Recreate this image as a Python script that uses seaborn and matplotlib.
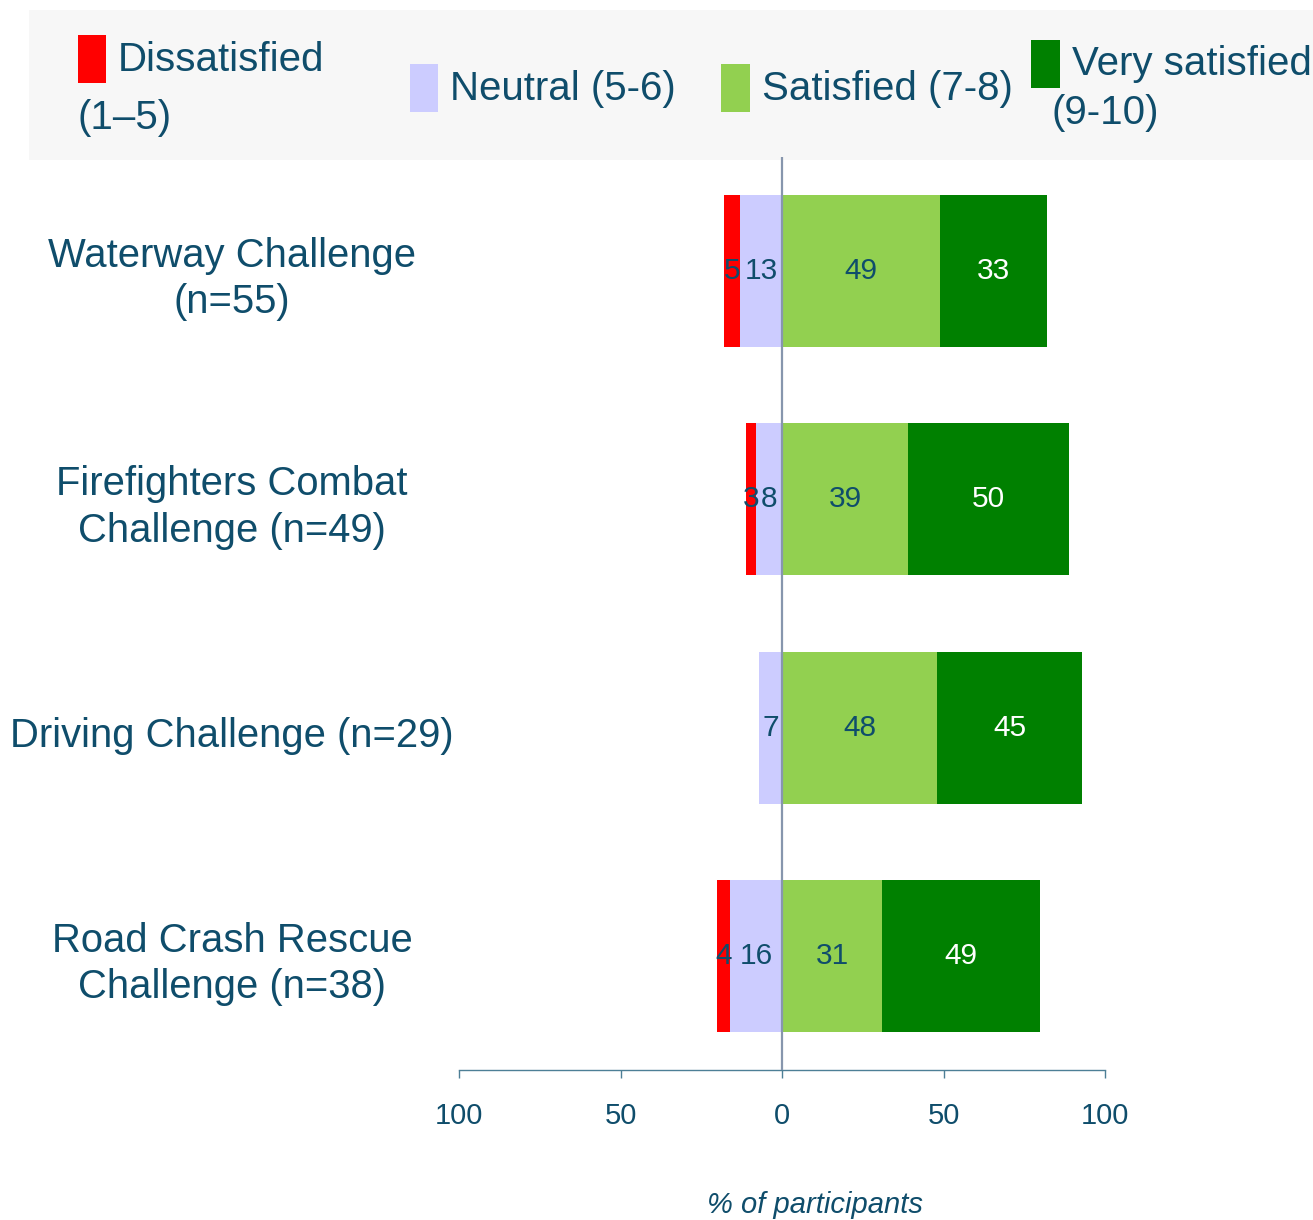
import matplotlib
matplotlib.use("Agg")
import matplotlib.pyplot as plt
import matplotlib.transforms as mtransforms
import seaborn as sns
import pandas as pd
from matplotlib.patches import Rectangle

# ---------------- data ----------------
categories = ["Waterway Challenge\n(n=55)",
              "Firefighters Combat\nChallenge (n=49)",
              "Driving Challenge (n=29)",
              "Road Crash Rescue\nChallenge (n=38)"]
dissatisfied = [5, 3, 0, 4]
neutral = [13, 8, 7, 16]
satisfied = [49, 39, 48, 31]
very_satisfied = [33, 50, 45, 49]
series_labels = ["Dissatisfied\n(1–5)", "Neutral (5-6)", "Satisfied (7-8)", "Very satisfied\n(9-10)"]
tick_values = [-100, -50, 0, 50, 100]
tick_labels = ["100", "50", "0", "50", "100"]
axis_label = "% of participants"

# ---------------- style ----------------
C_DIS, C_NEU, C_SAT, C_VERY = "#ff0000", "#ccccff", "#92d050", "#008000"
TXT = "#0f4d6b"
AXC = "#4d7f96"
sns.set_style("white")
plt.rcParams["font.family"] = ["Liberation Sans", "DejaVu Sans"]

W, H = 1313, 1220
fig = plt.figure(figsize=(W / 100, H / 100), dpi=100)
ax = fig.add_axes([459 / W, 1 - 1070 / H, 646 / W, (1070 - 157) / H])
ax.patch.set_visible(False)

df = pd.DataFrame({
    "cat": categories,
    "dis": dissatisfied,
    "neu": neutral,
    "sat": satisfied,
    "very": very_satisfied,
})
df["left_outer"] = -(df["dis"] + df["neu"])
df["left_inner"] = -df["neu"]
df["right_outer"] = df["sat"] + df["very"]
df["right_inner"] = df["sat"]

bw = 0.665
for col, c in [("right_outer", C_VERY), ("right_inner", C_SAT),
               ("left_outer", C_DIS), ("left_inner", C_NEU)]:
    sns.barplot(data=df, y="cat", x=col, color=c, orient="h", width=bw,
                saturation=1, ax=ax, edgecolor="none", order=categories)

ax.axvline(0, color="#8796ad", lw=1.6, zorder=4)

# value labels
fs_small = 21.5
for i, row in df.iterrows():
    if row["dis"] > 0:
        ax.text(-(row["neu"] + row["dis"] / 2), i, str(row["dis"]), ha="center", va="center",
                color=TXT, fontsize=fs_small, zorder=5)
    if row["neu"] > 0:
        ax.text(-row["neu"] / 2, i, str(row["neu"]), ha="center", va="center",
                color=TXT, fontsize=fs_small, zorder=5)
    ax.text(row["sat"] / 2, i, str(row["sat"]), ha="center", va="center",
            color=TXT, fontsize=fs_small, zorder=5)
    ax.text(row["sat"] + row["very"] / 2, i, str(row["very"]), ha="center", va="center",
            color="white", fontsize=fs_small, zorder=5)

ax.set_xlim(-100, 100)
ax.set_ylim(len(categories) - 0.5, -0.5)
ax.set_xticks(tick_values)
ax.set_xticklabels(tick_labels, fontsize=21, color=TXT)
ax.tick_params(axis="x", bottom=True, length=6, width=1, color=AXC, pad=17, direction="out")
ax.set_xlabel("")
ax.set_ylabel("")
ax.set_yticks(range(len(categories)))
ax.set_yticklabels([])
ax.tick_params(axis="y", length=0, left=False)
for s in ["top", "right", "left"]:
    ax.spines[s].set_visible(False)
ax.spines["bottom"].set_color(AXC)
ax.spines["bottom"].set_linewidth(1)

# category labels, centred at x = 232 px
lab_tr = mtransforms.blended_transform_factory(fig.transFigure, ax.transData) + \
    mtransforms.ScaledTranslation(0, -8 / 100, fig.dpi_scale_trans)
for i, cat in enumerate(categories):
    fig.text(232 / W, i, cat, transform=lab_tr, ha="center", va="center",
             multialignment="center", fontsize=28.8, color=TXT, linespacing=1.28)

fig.text(815 / W, 1 - 1205 / H, axis_label, ha="center", va="center",
         fontsize=21, style="italic", color=TXT)

# ---------------- legend (manual, in pixel positions) ----------------
def fx(x):
    return x / W

def fy(y):
    return 1 - y / H

def frect(x, y, w, h, color, z=1):
    fig.add_artist(Rectangle((fx(x), fy(y + h)), w / W, h / H, transform=fig.transFigure,
                             facecolor=color, edgecolor="none", zorder=z))

frect(29, 10, W - 29, 150, "#f7f7f7", z=0)
frect(78, 35, 28, 48, C_DIS, z=2)
frect(410, 64, 28, 48, C_NEU, z=2)
frect(721, 64, 29, 48, C_SAT, z=2)
frect(1031, 40, 29, 48, C_VERY, z=2)

fs_leg = 29
d1, d2 = series_labels[0].split("\n")
v1, v2 = series_labels[3].split("\n")
for x, y, t in [(118, 60, d1), (78, 118, d2), (450, 89, series_labels[1]),
                (762, 89, series_labels[2]), (1072, 64, v1), (1052, 113, v2)]:
    fig.text(fx(x), fy(y), t, ha="left", va="center", fontsize=fs_leg, color=TXT, zorder=3)

fig.savefig("out.png", dpi=100)
